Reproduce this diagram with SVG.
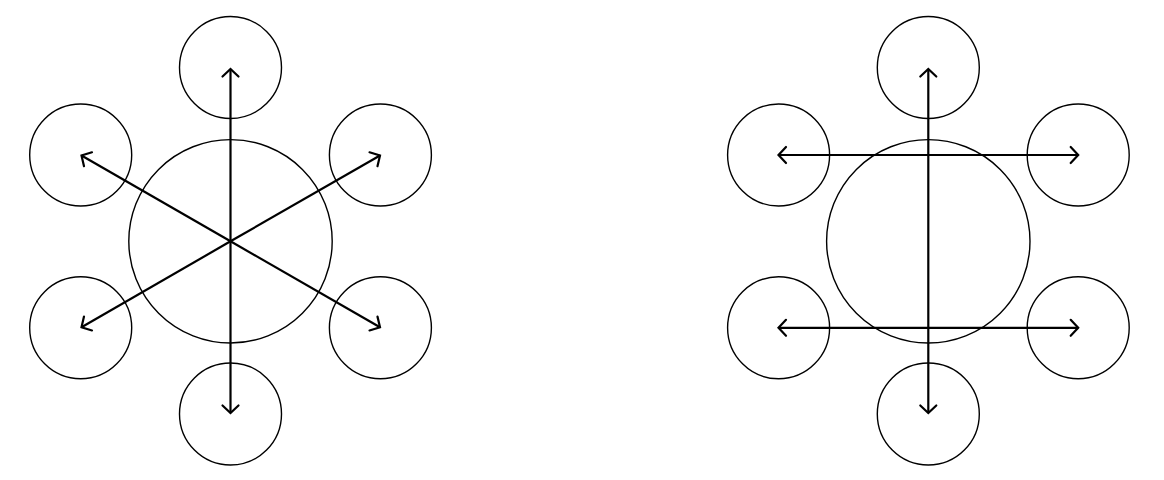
<svg xmlns="http://www.w3.org/2000/svg" width="1164" height="480" viewBox="0 0 1164 480">
<style>
.node{fill:none;stroke:#000;stroke-width:1.4}
.edge{fill:none;stroke:#000;stroke-width:2.2}
.head{fill:none;stroke:#000;stroke-width:2.2;stroke-linecap:round;stroke-linejoin:miter}
</style>
<defs>
<marker id="arr" markerUnits="userSpaceOnUse" viewBox="-12 -12 24 24" markerWidth="24" markerHeight="24" refX="0" refY="0" orient="auto-start-reverse">
<path class="head" d="M-7.5,-8 L0,0 L-7.5,8"/>
</marker>
</defs>
<rect width="1164" height="480" fill="#fff"/>
<g id="left-diagram">
<g id="L-center"><circle class="node" cx="230.5" cy="241.3" r="101.7"/></g>
<g id="L-top"><circle class="node" cx="230.5" cy="67.5" r="51"/></g>
<g id="L-bottom"><circle class="node" cx="230.5" cy="414" r="51"/></g>
<g id="L-upleft"><circle class="node" cx="80.7" cy="155" r="51"/></g>
<g id="L-upright"><circle class="node" cx="380.4" cy="155" r="51"/></g>
<g id="L-lowleft"><circle class="node" cx="80.7" cy="327.8" r="51"/></g>
<g id="L-lowright"><circle class="node" cx="380.4" cy="327.8" r="51"/></g>
</g>
<g id="right-diagram">
<g id="R-center"><circle class="node" cx="928.3" cy="241.3" r="101.7"/></g>
<g id="R-top"><circle class="node" cx="928.3" cy="67.5" r="51"/></g>
<g id="R-bottom"><circle class="node" cx="928.3" cy="414" r="51"/></g>
<g id="R-upleft"><circle class="node" cx="778.6" cy="155" r="51"/></g>
<g id="R-upright"><circle class="node" cx="1078.2" cy="155" r="51"/></g>
<g id="R-lowleft"><circle class="node" cx="778.6" cy="327.8" r="51"/></g>
<g id="R-lowright"><circle class="node" cx="1078.2" cy="327.8" r="51"/></g>
</g>
<g id="connectors">
<line class="edge" x1="230.5" y1="241.3" x2="230.5" y2="69" marker-end="url(#arr)"/>
<line class="edge" x1="230.5" y1="241.3" x2="230.5" y2="413" marker-end="url(#arr)"/>
<line class="edge" x1="230.5" y1="241.3" x2="81.5" y2="155.5" marker-end="url(#arr)"/>
<line class="edge" x1="230.5" y1="241.3" x2="380" y2="155.5" marker-end="url(#arr)"/>
<line class="edge" x1="230.5" y1="241.3" x2="81.5" y2="327.3" marker-end="url(#arr)"/>
<line class="edge" x1="230.5" y1="241.3" x2="380" y2="327.3" marker-end="url(#arr)"/>
<line class="edge" x1="928.3" y1="69" x2="928.3" y2="413" marker-start="url(#arr)" marker-end="url(#arr)"/>
<line class="edge" x1="778.5" y1="155" x2="1078.2" y2="155" marker-start="url(#arr)" marker-end="url(#arr)"/>
<line class="edge" x1="778.5" y1="327.8" x2="1078.2" y2="327.8" marker-start="url(#arr)" marker-end="url(#arr)"/>
</g>
</svg>
